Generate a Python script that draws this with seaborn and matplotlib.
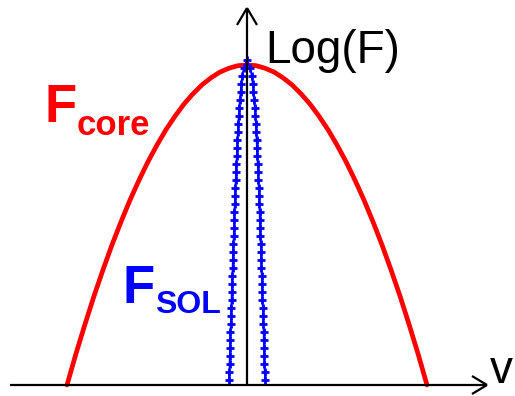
import numpy as np
import pandas as pd
import matplotlib
matplotlib.use("Agg")
import matplotlib.pyplot as plt
import seaborn as sns

# Core distribution: log of a broad Maxwellian -> wide parabola
core_v = [-1.0, -0.95, -0.9, -0.85, -0.8, -0.75, -0.7, -0.65, -0.6, -0.55, -0.5,
          -0.45, -0.4, -0.35, -0.3, -0.25, -0.2, -0.15, -0.1, -0.05, 0.0,
          0.05, 0.1, 0.15, 0.2, 0.25, 0.3, 0.35, 0.4, 0.45, 0.5,
          0.55, 0.6, 0.65, 0.7, 0.75, 0.8, 0.85, 0.9, 0.95, 1.0]
core_logf = [0.0, 0.098, 0.19, 0.278, 0.36, 0.438, 0.51, 0.578, 0.64, 0.698, 0.75,
             0.798, 0.84, 0.878, 0.91, 0.938, 0.96, 0.978, 0.99, 0.998, 1.0,
             0.998, 0.99, 0.978, 0.96, 0.938, 0.91, 0.878, 0.84, 0.798, 0.75,
             0.698, 0.64, 0.578, 0.51, 0.438, 0.36, 0.278, 0.19, 0.098, 0.0]

# SOL distribution: narrow peak, sampled on one side (mirrored about v = 0)
sol_level = [1.016, 0.991, 0.966, 0.941, 0.916, 0.891, 0.866, 0.841, 0.816, 0.791,
             0.766, 0.741, 0.716, 0.691, 0.666, 0.641, 0.616, 0.591, 0.566, 0.541,
             0.516, 0.491, 0.466, 0.441, 0.416, 0.391, 0.366, 0.341, 0.316, 0.291,
             0.266, 0.241, 0.216, 0.191, 0.166, 0.141, 0.116, 0.091, 0.066, 0.041, 0.016]
sol_halfwidth = [0.0, 0.018, 0.026, 0.032, 0.036, 0.040, 0.043, 0.046, 0.049, 0.051,
                 0.053, 0.055, 0.057, 0.059, 0.061, 0.063, 0.065, 0.067, 0.068, 0.070,
                 0.071, 0.073, 0.074, 0.076, 0.077, 0.079, 0.080, 0.082, 0.083, 0.085,
                 0.086, 0.088, 0.089, 0.090, 0.092, 0.093, 0.094, 0.096, 0.097, 0.098, 0.100]

sns.set_style("white")
plt.rcParams["font.family"] = ["Liberation Sans", "DejaVu Sans"]

W, H = 515, 396
fig = plt.figure(figsize=(W / 100, H / 100), dpi=100)
ax = fig.add_axes([0, 0, 1, 1])

core_df = pd.DataFrame({"v": core_v, "logf": core_logf})
sol_v = [-w for w in sol_halfwidth[::-1]] + sol_halfwidth[1:]
sol_y = sol_level[::-1] + sol_level[1:]
sol_df = pd.DataFrame({"v": sol_v, "logf": sol_y})

sns.lineplot(data=core_df, x="v", y="logf", ax=ax, color="#ff0000",
             linewidth=3.4, estimator=None, sort=False, zorder=2)
sns.lineplot(data=sol_df, x="v", y="logf", ax=ax, color="#0000ff",
             linewidth=1.2, marker="+", markersize=5.5, markeredgewidth=2.0,
             markeredgecolor="#0000ff", estimator=None, sort=False, zorder=3)

ax.set_xlim(-247 / 180, 268 / 180)
ax.set_ylim(-11 / 320, 385 / 320)
ax.set_axis_off()

# coordinate axes with open arrowheads (pixel positions converted to figure fraction)
def px(x, y):
    return x / W, 1 - y / H

axis_kw = dict(color="black", linewidth=1.6, transform=fig.transFigure,
               solid_capstyle="butt", zorder=4)
for (x0, y0), (x1, y1) in [((10, 385), (487, 385)),
                           ((247, 385), (247, 8)),
                           ((472, 376), (487, 385)), ((472, 394), (487, 385)),
                           ((237, 25), (247, 8)), ((257, 25), (247, 8))]:
    a, b = px(x0, y0), px(x1, y1)
    fig.add_artist(plt.Line2D([a[0], b[0]], [a[1], b[1]], **axis_kw))

def label(x, y, s, size, color="black", weight="normal"):
    fx, fy = px(x, y)
    fig.text(fx, fy, s, fontsize=size, color=color, fontweight=weight,
             ha="left", va="baseline")

label(265, 63, "Log(F)", 33)
label(490, 383, "v", 33)
label(45, 122, "F", 38, "#ff0000", "bold")
label(77, 135, "core", 25, "#ff0000", "bold")
label(122, 303, "F", 38, "#0000ff", "bold")
label(155, 313, "SOL", 23, "#0000ff", "bold")

fig.savefig("out.png", dpi=100)
